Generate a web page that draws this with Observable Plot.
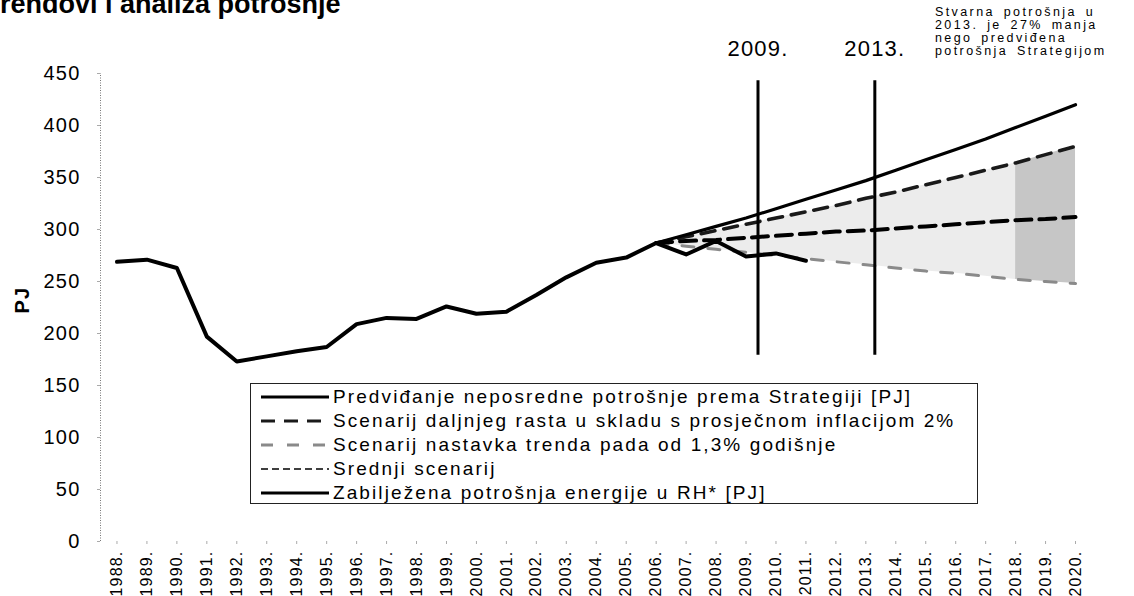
<!DOCTYPE html>
<html><head><meta charset="utf-8">
<script src="https://cdn.jsdelivr.net/npm/d3@7"></script>
<script src="https://cdn.jsdelivr.net/npm/@observablehq/plot@0.6"></script>
<style>
body{margin:0;background:#fff;}
#wrap{position:relative;width:1134px;height:596px;overflow:hidden;font-family:"Liberation Sans",Arial,sans-serif;color:#000;}
#chart{position:absolute;left:0;top:0;}
#title{position:absolute;left:-15px;top:-11px;font-weight:bold;font-size:27px;line-height:30px;white-space:nowrap;}
#note{position:absolute;left:935px;top:6px;font-size:12.5px;line-height:12.9px;letter-spacing:2.4px;word-spacing:3px;white-space:nowrap;}
#legend{position:absolute;left:250px;top:383px;width:728px;height:121px;border:1.5px solid #222;box-sizing:border-box;padding-top:1px;background:#fff;}
.row{display:flex;align-items:center;height:24px;font-size:19px;letter-spacing:2.1px;white-space:nowrap;}
.row svg{margin-left:10px;margin-right:4px;flex:none;}
</style>
</head><body>
<div id="wrap">
  <div id="chart"></div>
  <div id="title">Trendovi i analiza potrošnje</div>
  <div id="note">Stvarna potrošnja u<br>2013. je 27% manja<br>nego predviđena<br>potrošnja Strategijom</div>
  <div id="legend"></div>
</div>
<script>
// ---- data ----
const years = [1988,1989,1990,1991,1992,1993,1994,1995,1996,1997,1998,1999,2000,2001,2002,2003,2004,2005,2006,2007,2008,2009,2010,2011];
const recorded = [269,271,263,197,173,178,183,187,209,215,214,226,219,221,237,254,268,273,287,276,289,274,277,270];

const scenYears = [2006,2007,2008,2009,2010,2011,2012,2013,2014,2015,2016,2017,2018,2019,2020];
const strategy = [287,295,303,311,320,329,338,347,357,367,377,387,398,409,420];
const growth   = [287,293,299,305,311,317,323,330,336,343,350,357,364,372,380];
const decline  = [287,284,281,278,275,272,269,266,263,260,258,255,252,250,248];
const middle   = [287,289,290,292,294,296,298,299,301,303,305,307,309,310,312];

const xTicks = [1988,1989,1990,1991,1992,1993,1994,1995,1996,1997,1998,1999,2000,2001,2002,2003,2004,2005,2006,2007,2008,2009,2010,2011,2012,2013,2014,2015,2016,2017,2018,2019,2020];
const yTicks = [0,50,100,150,200,250,300,350,400,450];

const markerYears = [2009.4, 2013.3];
const markerLabels = ["2009.", "2013."];
const markerFrom = 179, markerTo = 443, markerLabelY = 474;

const legendLabels = [
  "Predviđanje neposredne potrošnje prema Strategiji [PJ]",
  "Scenarij daljnjeg rasta u skladu s prosječnom inflacijom 2%",
  "Scenarij nastavka trenda pada od 1,3% godišnje",
  "Srednji scenarij",
  "Zabilježena potrošnja energije u RH* [PJ]"
];

// ---- tables ----
const rec = years.map((year, i) => ({year, v: recorded[i]}));
const scen = scenYears.map((year, i) => ({year, strategy: strategy[i], growth: growth[i], decline: decline[i], middle: middle[i]}));

const styles = {
  strategy: {stroke: "#000", strokeWidth: 3.2},
  growth:   {stroke: "#1a1a1a", strokeWidth: 3.6, strokeDasharray: "14,9"},
  decline:  {stroke: "#8a8a8a", strokeWidth: 3, strokeDasharray: "12,14"},
  middle:   {stroke: "#000", strokeWidth: 4, strokeDasharray: "16,8"},
  recorded: {stroke: "#000", strokeWidth: 4}
};

const xDomain = [1987.45, 2020.5];

const chart = Plot.plot({
  width: 1134, height: 596,
  marginLeft: 100, marginRight: 44, marginTop: 73, marginBottom: 55,
  x: {domain: xDomain, axis: null},
  y: {domain: [0, 450], axis: null},
  style: {fontFamily: "'Liberation Sans', Arial, sans-serif", background: "transparent", color: "#000"},
  marks: [
    Plot.areaY(scen.filter(d => d.year <= 2018), {x: "year", y1: "decline", y2: "growth", fill: "#ececec"}),
    Plot.areaY(scen.filter(d => d.year >= 2018), {x: "year", y1: "decline", y2: "growth", fill: "#c6c6c6"}),
    Plot.ruleX([xDomain[0]], {y1: 0, y2: 450, stroke: "#777", strokeWidth: 1, strokeDasharray: "1,1.5"}),
    Plot.axisY(yTicks, {tickSize: 3, tickPadding: 17, fontSize: 20, stroke: "#aaa", label: null}),
    Plot.axisX(xTicks, {tickFormat: d => d + ".", tickRotate: -90, fontSize: 16, tickSize: 3, tickPadding: 6, stroke: "#aaa", label: null}),
    Plot.text(["PJ"], {frameAnchor: "left", dx: -78, dy: 6, rotate: -90, fontWeight: "bold", fontSize: 20}),
    Plot.lineY(scen, {x: "year", y: "decline", ...styles.decline}),
    Plot.lineY(scen, {x: "year", y: "growth", ...styles.growth}),
    Plot.lineY(scen, {x: "year", y: "middle", ...styles.middle}),
    Plot.lineY(scen, {x: "year", y: "strategy", ...styles.strategy}),
    Plot.lineY(rec, {x: "year", y: "v", ...styles.recorded}),
    Plot.ruleX(markerYears, {x: d => d, y1: markerFrom, y2: markerTo, stroke: "#000", strokeWidth: 3}),
    Plot.text(markerYears, {x: d => d, y: markerLabelY, text: (d, i) => markerLabels[i], fontSize: 22})
  ]
});
document.getElementById("chart").appendChild(chart);
// wider glyph spacing like the scanned original
d3.select(chart).selectAll("text").attr("letter-spacing", "1.2px");

// legend
const legendStyles = [styles.strategy, styles.growth, styles.decline,
  {stroke: "#000", strokeWidth: 1.6, strokeDasharray: "7,4"}, styles.recorded];
const leg = d3.select("#legend");
legendLabels.forEach((label, i) => {
  const row = leg.append("div").attr("class", "row");
  const s = legendStyles[i];
  const svg = row.append("svg").attr("width", 68).attr("height", 10);
  svg.append("line").attr("x1", 0).attr("x2", 68).attr("y1", 5).attr("y2", 5)
    .attr("stroke", s.stroke).attr("stroke-width", Math.min(s.strokeWidth, 3))
    .attr("stroke-dasharray", s.strokeDasharray || null);
  row.append("span").text(label);
});
</script>
</body></html>
